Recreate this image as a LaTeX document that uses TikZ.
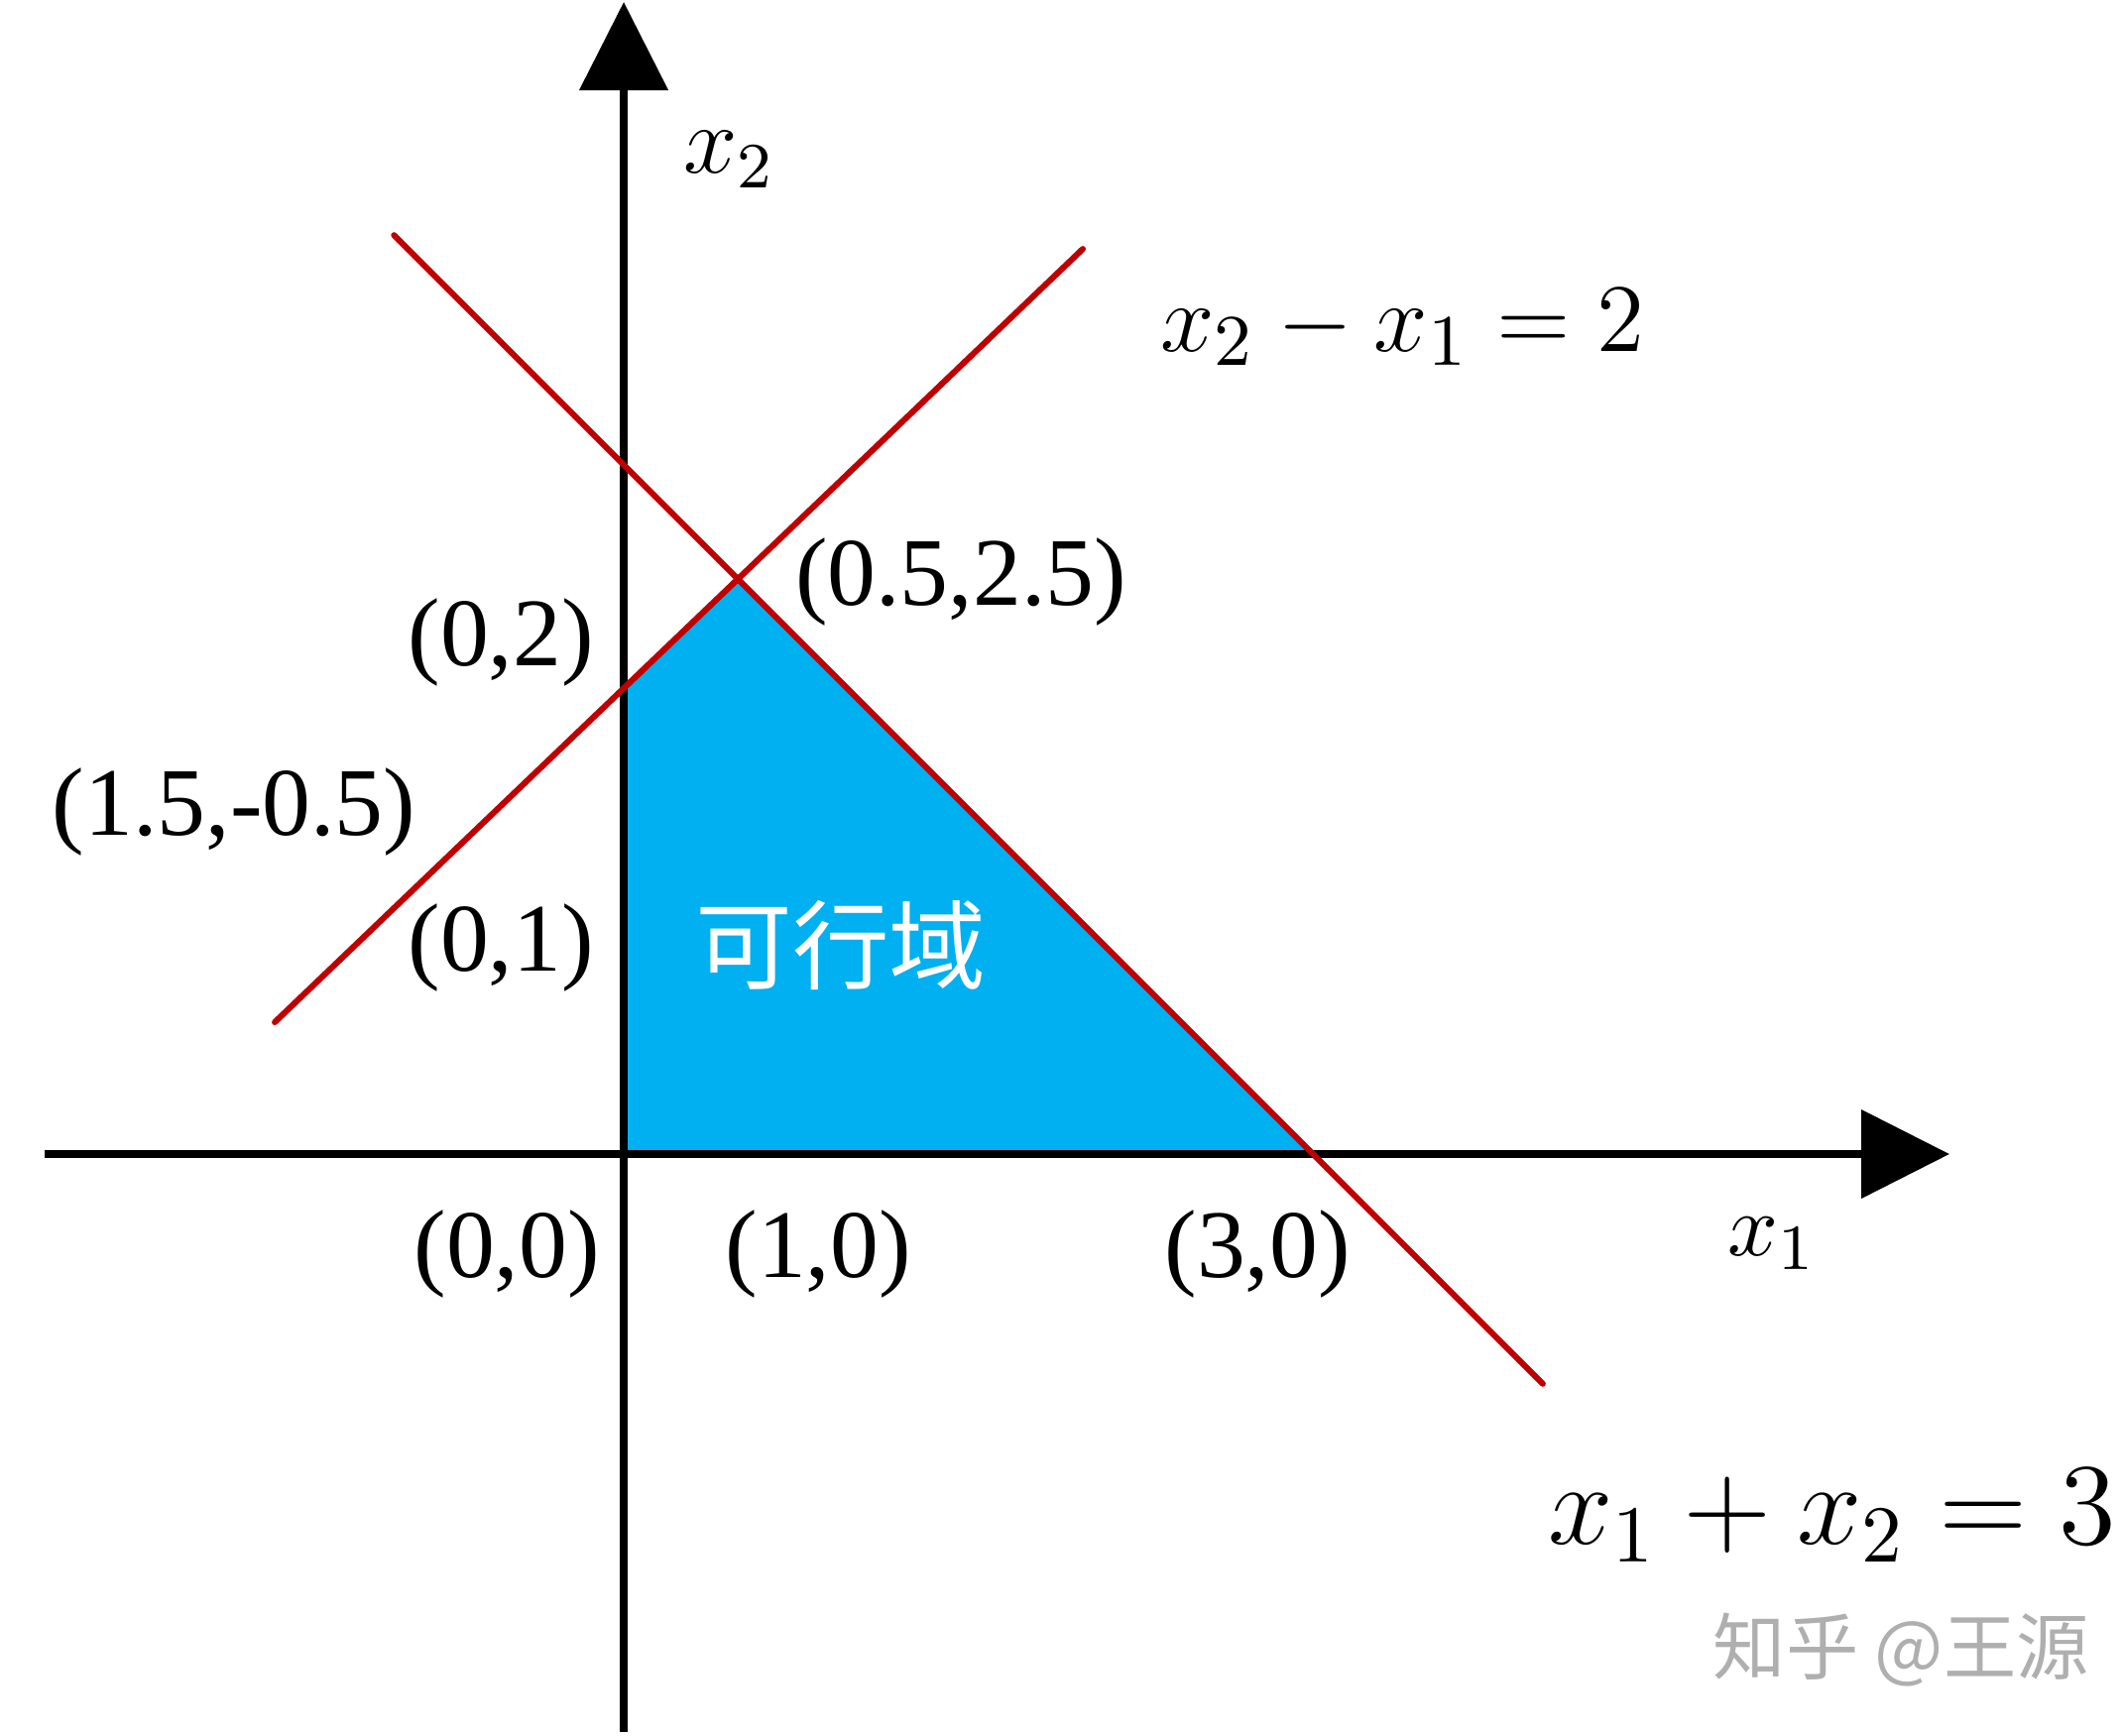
\documentclass[tikz,border=0pt]{standalone}
\usepackage{amsmath}
\usepackage{fontspec}
\setmainfont{Liberation Serif}
\newfontfamily\cjk{Noto Sans CJK SC}
\usetikzlibrary{arrows.meta}
\definecolor{bndred}{RGB}{192,0,0}
\definecolor{feasblue}{RGB}{0,176,240}
\definecolor{markgray}{RGB}{175,175,175}

\begin{document}
\begin{tikzpicture}[
  axis/.style={line width=0.95pt,-{Triangle[length=0.384cm,width=0.38cm]}},
  bnd/.style={bndred,line width=0.75pt,line cap=round},
  pt/.style={font=\fontsize{12}{14}\selectfont},
  eq/.style={font=\fontsize{13.2}{15}\selectfont}]

  \useasboundingbox (-2.715,-2.533) rectangle (6.521,5.024);

  % feasible region
  \coordinate (O) at (0,0);
  \coordinate (A) at (0,2.03);
  \coordinate (B) at (0.5,2.5);
  \coordinate (C) at (3,0);
  \fill[feasblue] (O) -- (A) -- (B) -- (C) -- cycle;

  % axes
  \coordinate (xs) at (-2.52,0);
  \coordinate (xe) at (5.77,0);
  \draw[axis] (xs) -- (xe);
  \coordinate (ys) at (0,-2.516);
  \coordinate (ye) at (0,5.015);
  \draw[axis] (ys) -- (ye);
  \node (xa) at (5.0,-0.39) {\fontsize{11.2}{13}\selectfont$x_1$};
  \node (ya) at (0.46,4.33) {\fontsize{11.8}{13}\selectfont$x_2$};

  % constraints
  \coordinate (p1) at (-1,4);
  \coordinate (p2) at (4,-1);
  \draw[bnd] (p1) -- (p2);
  \coordinate (q1) at (-1.519,0.574);
  \coordinate (q2) at (1.998,3.940);
  \draw[bnd] (q1) -- (q2);
  \node[eq] (eqa) at (3.39,3.60) {$x_2-x_1=2$};
  \node[eq,font=\fontsize{13.7}{16}\selectfont] (eqb) at (5.26,-1.575) {$x_1+x_2=3$};

  % points
  \node[pt] (p02) at (-0.535,2.227) {(0,2)};
  \node[pt] (p0525) at (1.467,2.49) {(0.5,2.5)};
  \node[pt] (p1505) at (-1.696,1.489) {(1.5,-0.5)};
  \node[pt] (p01) at (-0.535,0.898) {(0,1)};
  \node[pt] (p00) at (-0.509,-0.436) {(0,0)};
  \node[pt] (p10) at (0.846,-0.436) {(1,0)};
  \node[pt] (p30) at (2.758,-0.436) {(3,0)};

  \node[text=white,font=\cjk\fontsize{12}{14}\selectfont] (feas) at (0.945,0.91) {可行域};

  % watermark
  \node[text=markgray,font=\cjk\fontsize{9}{11}\selectfont] (mark) at (5.56,-2.16) {知乎 @王源};
\end{tikzpicture}
\end{document}
